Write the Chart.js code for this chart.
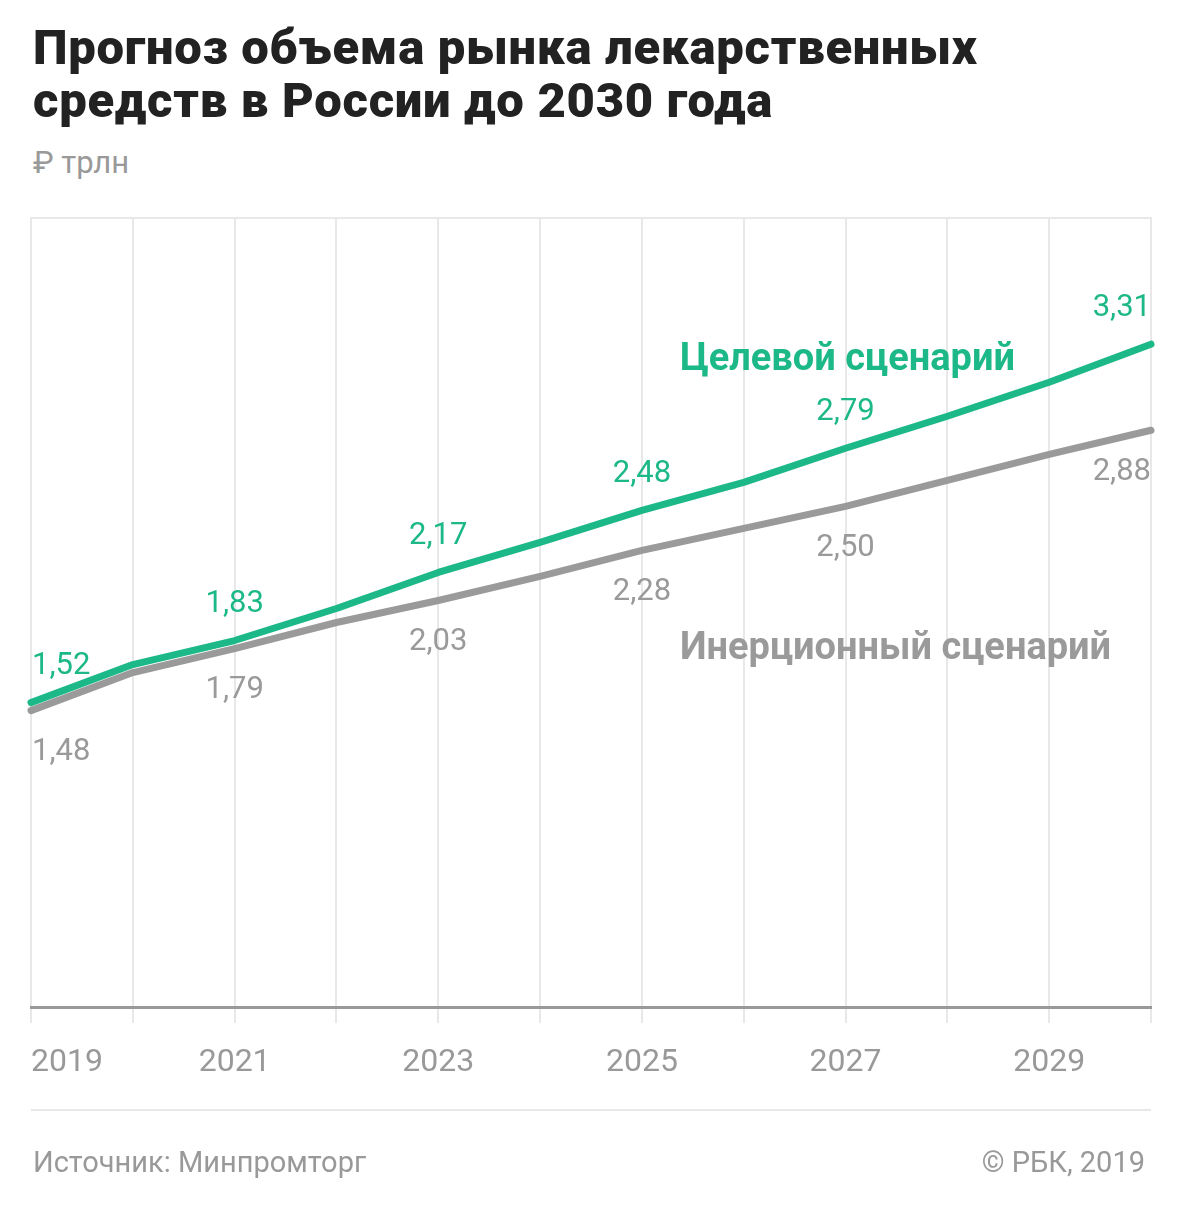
<!DOCTYPE html>
<html lang="ru">
<head>
<meta charset="utf-8">
<script src="https://cdn.jsdelivr.net/npm/chart.js@4"></script>
<style>
  html, body { margin: 0; padding: 0; background: #fff; }
  body { width: 1180px; height: 1214px; position: relative; overflow: hidden; font-family: Roboto, "Noto Sans", sans-serif; }
  #title { position: absolute; left: 33px; top: 21px; font-weight: 900; font-size: 49px; line-height: 53px; color: #222; letter-spacing: 0.7px; white-space: nowrap; }
  #subtitle { position: absolute; left: 33px; top: 144px; font-size: 31px; color: #999; }
  #sep { position: absolute; left: 31px; top: 1109px; width: 1120px; height: 2px; background: #e8e8e8; }
  #source { position: absolute; left: 33px; top: 1145px; font-size: 29px; color: #999; }
  #copy { position: absolute; right: 35px; top: 1145px; font-size: 29px; color: #999; }
  #wrap { position: absolute; left: 0; top: 0; width: 1180px; height: 1214px; }
</style>
</head>
<body>
<div id="title">Прогноз объема рынка лекарственных<br>средств в России до 2030 года</div>
<div id="subtitle">₽ трлн</div>
<div id="wrap"><canvas id="c"></canvas></div>
<div id="sep"></div>
<div id="source">Источник: Минпромторг</div>
<div id="copy">© РБК, 2019</div>
<script>
const years = ['2019','2020','2021','2022','2023','2024','2025','2026','2027','2028','2029','2030'];
const targetScenario = [1.52, 1.71, 1.83, 1.99, 2.17, 2.32, 2.48, 2.62, 2.79, 2.95, 3.12, 3.31];
const inertialScenario = [1.48, 1.67, 1.79, 1.92, 2.03, 2.15, 2.28, 2.39, 2.50, 2.63, 2.76, 2.88];
const labeledIndexes = [0, 2, 4, 6, 8, 11];
const seriesNames = ['Целевой сценарий', 'Инерционный сценарий'];

const GREEN = '#1db887';
const GRAY = '#9a9a9a';

const fmt = v => v.toFixed(2).replace('.', ',');

const overlay = {
  id: 'overlay',
  afterDatasetsDraw(chart) {
    const ctx = chart.ctx;
    const ca = chart.chartArea;
    const xs = chart.scales.x, ys = chart.scales.y;
    ctx.save();
    // top border line
    ctx.strokeStyle = '#e8e8e8';
    ctx.lineWidth = 2;
    ctx.beginPath();
    ctx.moveTo(ca.left - 1, ca.top);
    ctx.lineTo(ca.right + 1, ca.top);
    ctx.stroke();
    // value labels
    ctx.font = '31px Roboto, "Noto Sans", sans-serif';
    ctx.textBaseline = 'middle';
    const last = years.length - 1;
    chart.data.datasets.forEach((ds, di) => {
      const meta = chart.getDatasetMeta(di);
      ctx.fillStyle = ds.borderColor;
      labeledIndexes.forEach(i => {
        const pt = meta.data[i];
        ctx.textAlign = i === 0 ? 'left' : (i === last ? 'right' : 'center');
        const y = di === 0 ? pt.y - 36 : pt.y + 42;
        ctx.fillText(fmt(ds.data[i]), pt.x + (i === 0 ? 1 : 0), y);
      });
    });
    // series name labels
    ctx.font = 'bold 38px Roboto, "Noto Sans", sans-serif';
    ctx.textAlign = 'left';
    ctx.textBaseline = 'alphabetic';
    const nx = xs.getPixelForValue(6) + 38;
    ctx.fillStyle = GREEN;
    ctx.fillText(seriesNames[0], nx, ys.getPixelForValue(3.18));
    ctx.fillStyle = GRAY;
    ctx.fillText(seriesNames[1], nx, ys.getPixelForValue(1.74));
    ctx.restore();
  }
};

new Chart(document.getElementById('c'), {
  type: 'line',
  data: {
    labels: years,
    datasets: [
      { label: seriesNames[0], data: targetScenario, borderColor: GREEN, borderWidth: 7, pointRadius: 0, tension: 0, borderCapStyle: 'round', borderJoinStyle: 'round', clip: false },
      { label: seriesNames[1], data: inertialScenario, borderColor: GRAY, borderWidth: 7, pointRadius: 0, tension: 0, borderCapStyle: 'round', borderJoinStyle: 'round', clip: false }
    ]
  },
  options: {
    responsive: true,
    maintainAspectRatio: false,
    animation: false,
    events: [],
    layout: { padding: { top: 218, left: 31, right: 29, bottom: 127 } },
    plugins: { legend: { display: false }, tooltip: { enabled: false } },
    scales: {
      x: {
        offset: false,
        grid: { color: '#e8e8e8', lineWidth: 2, tickLength: 16, tickColor: '#e8e8e8', drawOnChartArea: true },
        border: { display: true, color: '#999', width: 3 },
        ticks: {
          autoSkip: false, maxRotation: 0, minRotation: 0, align: 'inner', padding: 21,
          color: '#999', font: { family: 'Roboto', size: 32 },
          callback: (v, i) => (i % 2 === 0 && i < years.length - 1) ? years[i] : ''
        },
        afterFit: s => { s.height = 80; }
      },
      y: {
        display: false,
        min: 0,
        max: 3.94
      }
    }
  },
  plugins: [overlay]
});
</script>
</body>
</html>
